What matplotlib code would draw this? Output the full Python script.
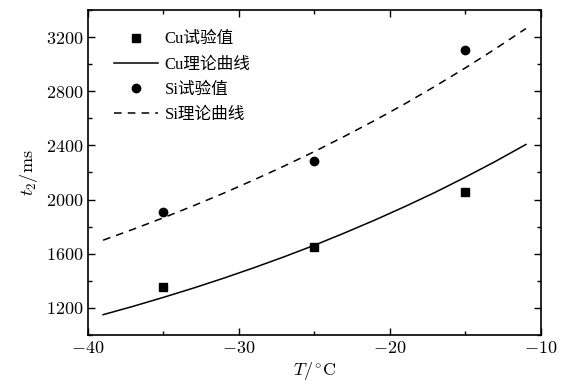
import matplotlib
matplotlib.use("Agg")
import matplotlib.pyplot as plt
from matplotlib.ticker import MultipleLocator, FuncFormatter

plt.rcParams['mathtext.fontset'] = 'cm'
plt.rcParams['font.family'] = ['Liberation Serif', 'Noto Sans CJK SC']

# measured points
T_exp = [-35, -25, -15]
cu_exp = [1355, 1652, 2059]
si_exp = [1911, 2286, 3108]

# theoretical curves, read every 2 degrees
T_fit = [-39, -37, -35, -33, -31, -29, -27, -25, -23, -21, -19, -17, -15, -13, -11]
cu_fit = [1150, 1212, 1278, 1347, 1420, 1497, 1578, 1663, 1754, 1849, 1949, 2054, 2166, 2283, 2407]
si_fit = [1700, 1781, 1866, 1955, 2048, 2146, 2248, 2355, 2468, 2585, 2708, 2838, 2973, 3115, 3263]

fig = plt.figure(figsize=(5.74, 3.85), dpi=100)
ax = fig.add_axes([0.1533, 0.1299, 0.7892, 0.8441])

ax.plot(T_exp, cu_exp, 's', color='black', markersize=5.5, label='Cu试验值')
ax.plot(T_fit, cu_fit, '-', color='black', linewidth=1.1, label='Cu理论曲线')
ax.plot(T_exp, si_exp, 'o', color='black', markersize=6, label='Si试验值')
ax.plot(T_fit, si_fit, '--', color='black', linewidth=1.1, dashes=(5, 4), label='Si理论曲线')

ax.set_xlim(-40, -10)
ax.set_ylim(1000, 3400)
ax.xaxis.set_major_locator(MultipleLocator(10))
ax.xaxis.set_minor_locator(MultipleLocator(5))
ax.yaxis.set_major_locator(MultipleLocator(400))
ax.yaxis.set_minor_locator(MultipleLocator(200))
ax.xaxis.set_major_formatter(FuncFormatter(lambda v, p: r'$%d$' % v))
ax.yaxis.set_major_formatter(FuncFormatter(lambda v, p: r'$%d$' % v))
ax.tick_params(which='both', direction='in', top=True, right=True, labelsize=13)
ax.tick_params(which='major', length=5, width=1.0)
ax.tick_params(which='minor', length=3, width=1.0)
for s in ax.spines.values():
    s.set_linewidth(1.2)

ax.set_xlabel(r'$T/^{\circ}\mathrm{C}$', fontsize=13, labelpad=2)
ax.set_ylabel(r'$t_2/\mathrm{ms}$', fontsize=13, labelpad=4)

ax.legend(loc='upper left', bbox_to_anchor=(0.04, 0.96), frameon=False,
          fontsize=12, handlelength=2.6, labelspacing=0.55, borderpad=0,
          handletextpad=0.4)

fig.savefig('out.png', dpi=100)
